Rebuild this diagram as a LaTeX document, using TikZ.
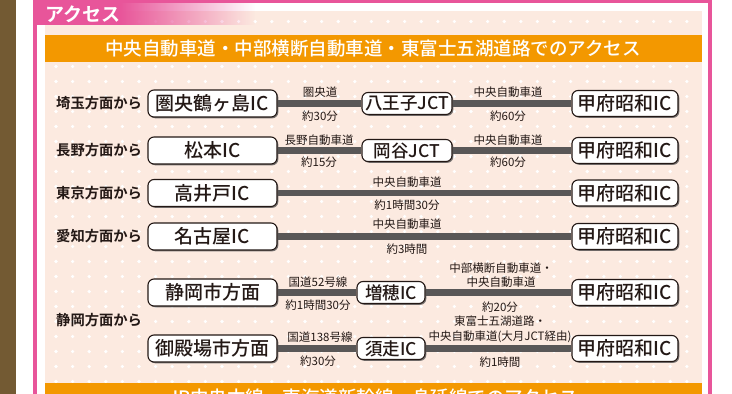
\documentclass[tikz,border=0pt]{standalone}
\usepackage{fontspec}
\setmainfont{Noto Sans CJK JP}[BoldFont={Noto Sans CJK JP Bold}]
\newfontfamily\medium{Noto Sans CJK JP Medium}
\usepackage{tikz}
\usetikzlibrary{positioning,shadows,fadings}
\definecolor{ink}{HTML}{231815}
\definecolor{roadgray}{HTML}{595757}
\definecolor{frame}{HTML}{E8559A}
\definecolor{peach}{HTML}{FCEAE0}
\definecolor{bar}{HTML}{F39800}
\definecolor{bark}{HTML}{735A33}

\begin{document}
\begin{tikzpicture}[x=1pt,y=-1pt,
    fromlabel/.style={anchor=west,inner sep=0pt,text=ink,font=\bfseries\fontsize{14.3}{14.3}\selectfont},
    box/.style={draw=ink,line width=1.1pt,fill=white,rounded corners=6pt,inner sep=0pt,text=ink,
      drop shadow={shadow xshift=1.3pt,shadow yshift=-1.3pt,fill=roadgray,opacity=0.8}},
    startbox/.style={box,minimum width=129pt,minimum height=27pt,font=\medium\fontsize{19}{19}\selectfont},
    jctbox/.style={box,minimum width=90pt,minimum height=22pt,font=\medium\fontsize{17.5}{17.5}\selectfont},
    exitbox/.style={box,minimum width=68pt,minimum height=22pt,font=\medium\fontsize{17.5}{17.5}\selectfont},
    goalbox/.style={box,minimum width=106pt,minimum height=26pt,font=\medium\fontsize{19}{19}\selectfont},
    roadlabel/.style={inner sep=0pt,text=ink,align=center,font=\fontsize{11.5}{14.5}\selectfont},
    road/.style={draw=roadgray,line width=6.5pt},
    bartext/.style={text=white,font=\medium\fontsize{18.5}{18.5}\selectfont}]
  \useasboundingbox (0,0) rectangle (732,394);
  \clip (0,0) rectangle (732,394);
  \fill[white] (0,0) rectangle (732,394);
  \fill[bark] (0,0) rectangle (16,394);
  \fill[peach] (45,11) rectangle (702,394);
  \foreach \i in {0,...,38}
    \foreach \j in {0,...,25}
      \fill[white,shift={(56+16.6*\i,21.5+15*\j)}] (0,-1.8) -- (1.8,0) -- (0,1.8) -- (-1.8,0) -- cycle;
  \fill[frame] (35,2) rectangle (121,25);
  \fill[frame,path fading=east] (120,2) rectangle (255,25);
  \draw[frame,line width=3.5pt] (35,420) -- (35,1.5) -- (710,1.5) -- (710,420);
  \fill[bar] (45,35) rectangle (702,62);
  \fill[bar] (45,383) rectangle (702,420);

  \path
  (45,14) node[anchor=west,inner sep=0pt,text=white,font=\bfseries\fontsize{19}{19}\selectfont] (title) {アクセス}
  (373,48.5) node[bartext] (head) {中央自動車道・中部横断自動車道・東富士五湖道路でのアクセス}
  (373,397) node[bartext] (nexthead) {JR中央本線・東海道新幹線・身延線でのアクセス}

  (56,103.5) node[fromlabel] (saitama) {埼玉方面から}
  (56,150.5) node[fromlabel] (nagano) {長野方面から}
  (56,193) node[fromlabel] (tokyo) {東京方面から}
  (56,236) node[fromlabel] (aichi) {愛知方面から}
  (56,320) node[fromlabel] (shizuoka) {静岡方面から}

  (212.5,103.5) node[startbox] (kenou) {圏央鶴ヶ島IC}
  (212.5,150.5) node[startbox] (matsumoto) {松本IC}
  (212.5,193) node[startbox] (takaido) {高井戸IC}
  (212.5,236.5) node[startbox] (nagoya) {名古屋IC}
  (212.5,292.5) node[startbox] (shizuokashi) {静岡市方面}
  (212.5,348.5) node[startbox] (gotemba) {御殿場市方面}

  (407,103.5) node[jctbox] (hachioji) {八王子JCT}
  (407,150.5) node[jctbox] (okaya) {岡谷JCT}
  (391,292.5) node[exitbox] (masuho) {増穂IC}
  (391,348.5) node[exitbox] (subashiri) {須走IC}

  (625,103.5) node[goalbox] (kofua) {甲府昭和IC}
  (625,150.5) node[goalbox] (kofub) {甲府昭和IC}
  (625,193) node[goalbox] (kofuc) {甲府昭和IC}
  (625,236.5) node[goalbox] (kofud) {甲府昭和IC}
  (625,292.5) node[goalbox] (kofue) {甲府昭和IC}
  (625,348.5) node[goalbox] (kofuf) {甲府昭和IC}

  (320,92) node[roadlabel] (ken) {圏央道}
  (320,116) node[roadlabel] (kentime) {約30分}
  (508,92) node[roadlabel] (chuoa) {中央自動車道}
  (508,116) node[roadlabel] (chuoatime) {約60分}
  (319,140) node[roadlabel] (naganoexp) {長野自動車道}
  (319,162) node[roadlabel] (naganotime) {約15分}
  (508,140) node[roadlabel] (chuob) {中央自動車道}
  (508,162) node[roadlabel] (chuobtime) {約60分}
  (407,182) node[roadlabel] (chuoc) {中央自動車道}
  (407,205) node[roadlabel] (chuoctime) {約1時間30分}
  (407,224) node[roadlabel] (chuod) {中央自動車道}
  (407,249) node[roadlabel] (chuodtime) {約3時間}
  (318,282) node[roadlabel] (r52) {国道52号線}
  (318,305) node[roadlabel] (r52time) {約1時間30分}
  (501,275) node[roadlabel] (chubu) {中部横断自動車道・\\中央自動車道}
  (500,307) node[roadlabel] (chubutime) {約20分}
  (320,337) node[roadlabel] (r138) {国道138号線}
  (318,361) node[roadlabel] (r138time) {約30分}
  (500,329.5) node[roadlabel] (fuji) {東富士五湖道路・\\中央自動車道(大月JCT経由)}
  (500,362) node[roadlabel] (fujitime) {約1時間}
  ;

  \draw[road] (kenou) -- (hachioji);
  \draw[road] (hachioji) -- (kofua);
  \draw[road] (matsumoto) -- (okaya);
  \draw[road] (okaya) -- (kofub);
  \draw[road] (takaido) -- (kofuc);
  \draw[road] (nagoya) -- (kofud);
  \draw[road] (shizuokashi) -- (masuho);
  \draw[road] (masuho) -- (kofue);
  \draw[road] (gotemba) -- (subashiri);
  \draw[road] (subashiri) -- (kofuf);
\end{tikzpicture}
\end{document}
